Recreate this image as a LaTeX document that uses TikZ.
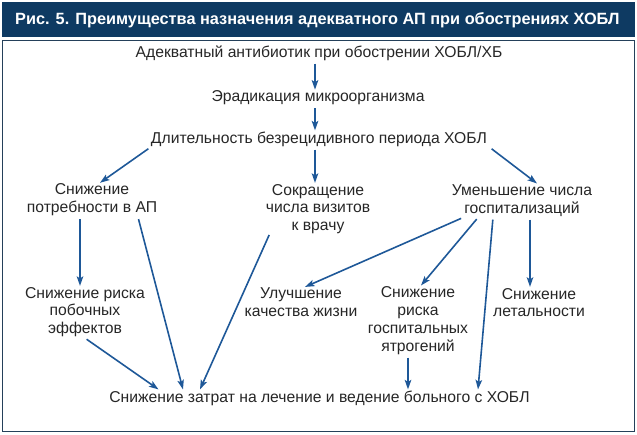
\documentclass[tikz,border=0pt]{standalone}
\usepackage{fontspec}
\setmainfont{Liberation Sans}
\usetikzlibrary{arrows.meta,positioning}
\definecolor{headnavy}{RGB}{14,58,98}
\definecolor{framenavy}{RGB}{36,64,90}
\definecolor{arrowblue}{RGB}{30,88,152}

\begin{document}
\begin{tikzpicture}[
        x=1pt, y=-1pt,
        every node/.style={font=\fontsize{15.7}{17.8}\selectfont, text=black!85, align=center, inner sep=1pt},
        link/.style={draw=arrowblue, line width=1.6pt, -{Stealth[length=9.5pt,width=6.5pt,inset=2pt]}, shorten <=2pt},
    ]
        \useasboundingbox (0,0) rectangle (637,434);
        % header
        \fill[headnavy] (2,2) rectangle (635,37);
        \node[font=\bfseries\fontsize{16.3}{18}\selectfont, text=white, anchor=west] (title) at (14,20)
            {Рис. 5. Преимущества назначения адекватного АП при обострениях ХОБЛ};
        \draw[framenavy, line width=1pt] (2.5,40) rectangle (634,431.5);

        \node (ab) at (319,53) {Адекватный антибиотик при обострении ХОБЛ/ХБ};
        \node (erad) at (318,98) {Эрадикация микроорганизма};
        \node (dur) at (319,139) {Длительность безрецидивного периода ХОБЛ};
        \node (need) at (92,200) {Снижение\\потребности в АП};
        \node (visit) at (318,209) {Сокращение\\числа визитов\\к врачу};
        \node (hosp) at (522,200.5) {Уменьшение числа\\госпитализаций};
        \node (side) at (85,312) {Снижение риска\\побочных\\эффектов};
        \node (life) at (301,302.5) {Улучшение\\качества жизни};
        \node (iatr) at (418,320.5) {Снижение\\риска\\госпитальных\\ятрогений};
        \node (mort) at (539,302.5) {Снижение\\летальности};
        \node (cost) at (319.5,398) {Снижение затрат на лечение и ведение больного с ХОБЛ};

        \draw[link] ([xshift=-4pt]ab.south) -- ([xshift=-3pt]erad.north);
        \draw[link] ([xshift=-3pt]erad.south) -- ([xshift=-4pt]dur.north);
        \draw[link] ([xshift=-169pt]dur.south) -- ([xshift=8pt]need.north);
        \draw[link] ([xshift=-4pt]dur.south) -- ([xshift=-3pt]visit.north);
        \draw[link] ([xshift=171pt]dur.south) -- ([xshift=15pt]hosp.north);
        \draw[link] ([xshift=-12pt]need.south) -- ([xshift=-5pt]side.north);
        \draw[link] ([xshift=46pt]need.south) -- ([xshift=-136.5pt]cost.north);
        \draw[link] ([xshift=-48pt,yshift=2pt]visit.south) -- ([xshift=-119.5pt]cost.north);
        \draw[link] (side.south) -- ([xshift=-161pt]cost.north);
        \draw[link] ([xshift=-59pt]hosp.south) -- ([xshift=4pt]life.north);
        \draw[link] ([xshift=-44pt]hosp.south) -- ([xshift=3pt]iatr.north);
        \draw[link] ([xshift=8pt]hosp.south) -- ([xshift=-9pt]mort.north);
        \draw[link] ([xshift=-29pt]hosp.south) -- ([xshift=158.5pt]cost.north);
        \draw[link] ([xshift=-10pt]iatr.south) -- ([xshift=88.5pt]cost.north);
    \end{tikzpicture}
\end{document}
